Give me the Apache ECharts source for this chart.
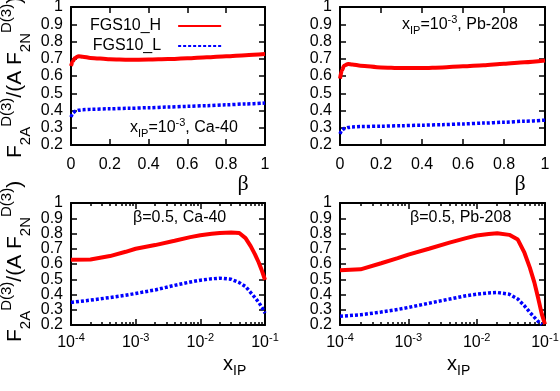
<!DOCTYPE html>
<html>
<head>
<meta charset="utf-8">
<script src="https://cdn.jsdelivr.net/npm/echarts@6/dist/echarts.min.js"></script>
<style>
html, body { margin: 0; padding: 0; background: #fff; }
#chart { width: 560px; height: 391px; }
</style>
</head>
<body>
<div id="chart"></div>
<script>
// beta scans at x_IP = 1e-3
const betaVals = [0, 0.01, 0.02, 0.04, 0.06, 0.1, 0.2, 0.3, 0.4, 0.5, 0.6, 0.7, 0.8, 0.9, 1.0];
const caH_beta = [0.658, 0.685, 0.705, 0.714, 0.712, 0.705, 0.697, 0.694, 0.695, 0.698, 0.703, 0.709, 0.715, 0.721, 0.727];
const caL_beta = [0.362, 0.385, 0.395, 0.402, 0.405, 0.407, 0.41, 0.413, 0.416, 0.42, 0.424, 0.428, 0.433, 0.438, 0.443];
const pbH_beta = [0.585, 0.635, 0.66, 0.67, 0.667, 0.66, 0.65, 0.646, 0.646, 0.65, 0.656, 0.663, 0.671, 0.68, 0.69];
const pbL_beta = [0.264, 0.285, 0.295, 0.302, 0.305, 0.307, 0.309, 0.312, 0.315, 0.318, 0.322, 0.327, 0.332, 0.338, 0.344];

// x_IP scans at beta = 0.5
const xipVals = [1e-4, 2e-4, 4e-4, 7e-4, 1e-3, 2e-3, 4e-3, 7e-3, 1e-2, 1.5e-2, 2e-2, 3e-2, 4e-2, 5e-2, 6e-2, 7e-2, 8e-2, 9e-2, 1e-1];
const caH_xip = [0.628, 0.630, 0.652, 0.680, 0.700, 0.724, 0.752, 0.776, 0.789, 0.798, 0.804, 0.806, 0.803, 0.770, 0.717, 0.663, 0.610, 0.554, 0.496];
const caL_xip = [0.348, 0.363, 0.380, 0.395, 0.407, 0.430, 0.460, 0.482, 0.494, 0.503, 0.507, 0.500, 0.478, 0.452, 0.413, 0.380, 0.348, 0.315, 0.278];
const pbH_xip = [0.559, 0.565, 0.605, 0.638, 0.661, 0.700, 0.740, 0.770, 0.787, 0.797, 0.802, 0.791, 0.760, 0.674, 0.576, 0.478, 0.370, 0.270, 0.205];
const pbL_xip = [0.257, 0.267, 0.285, 0.302, 0.315, 0.343, 0.370, 0.392, 0.402, 0.410, 0.413, 0.402, 0.370, 0.326, 0.283, 0.250, 0.222, 0.203, null];

// tick values (y labels are split in two sets so that none get dropped)
const yLabelsEven = [0.2, 0.4, 0.6, 0.8, 1];
const yLabelsOdd = [0.3, 0.5, 0.7, 0.9];
const xipMajor = [1e-4, 1e-3, 1e-2, 1e-1];
const seriesNames = ['FGS10_H', 'FGS10_L'];

const xipMinor = [];
for (let d = -4; d < -1; d++) {
  for (let k = 2; k <= 9; k++) xipMinor.push(k * Math.pow(10, d));
}

const FONT = "'Liberation Sans', Arial, sans-serif";
const black = '#000';

const grids = [
  { left: 71, top: 7, width: 194, height: 138 },
  { left: 340, top: 7, width: 205, height: 138 },
  { left: 71, top: 203, width: 194, height: 122 },
  { left: 340, top: 203, width: 205, height: 122 }
];
grids.forEach(g => { g.outerBoundsMode = 'none'; });

const lineAx = { show: true, onZero: false, lineStyle: { color: black, width: 2 } };
const tickAx = (len) => ({ show: true, inside: true, length: len, lineStyle: { color: black, width: 1.5 } });
const yLabelStyle = { margin: 8, showMinLabel: true, showMaxLabel: true, hideOverlap: false,
  color: black, fontFamily: FONT, fontSize: 16 };

const xAxes = [];
const yAxes = [];
for (let i = 0; i < 4; i++) {
  const isLog = i >= 2;
  ['bottom', 'top'].forEach(pos => {
    const ax = {
      gridIndex: i, position: pos,
      axisLine: lineAx, splitLine: { show: false },
      axisTick: tickAx(6)
    };
    if (isLog) {
      Object.assign(ax, { type: 'log', logBase: 10, min: 1e-4, max: 1e-1 });
      ax.axisTick.customValues = xipMajor;
      ax.axisLabel = {
        show: pos === 'bottom', customValues: xipMajor, margin: 7,
        showMinLabel: true, showMaxLabel: true, hideOverlap: false,
        color: black, fontFamily: FONT, fontSize: 16, lineHeight: 22,
        formatter: v => '10{sup|' + Math.round(Math.log10(v)) + '}',
        rich: { sup: { fontSize: 11, fontFamily: FONT, color: black, height: 11, verticalAlign: 'top' } }
      };
    } else {
      Object.assign(ax, { type: 'value', min: 0, max: 1, interval: 0.2 });
      ax.axisLabel = { show: pos === 'bottom', margin: 12, showMinLabel: true, showMaxLabel: true,
        color: black, fontFamily: FONT, fontSize: 16 };
    }
    xAxes.push(ax);
    if (isLog) {
      xAxes.push({
        gridIndex: i, position: pos, type: 'log', logBase: 10, min: 1e-4, max: 1e-1,
        axisLine: { show: false }, splitLine: { show: false },
        axisTick: Object.assign(tickAx(3), { customValues: xipMinor }),
        axisLabel: { show: false }
      });
    }
  });
  // left: frame + ticks + even labels; right: mirror; extra left: odd labels only
  yAxes.push({
    gridIndex: i, position: 'left', type: 'value', min: 0.2, max: 1, interval: 0.1,
    axisLine: lineAx, splitLine: { show: false }, axisTick: tickAx(6),
    axisLabel: Object.assign({ customValues: yLabelsEven }, yLabelStyle)
  });
  yAxes.push({
    gridIndex: i, position: 'right', type: 'value', min: 0.2, max: 1, interval: 0.1,
    axisLine: lineAx, splitLine: { show: false }, axisTick: tickAx(6),
    axisLabel: { show: false }
  });
  yAxes.push({
    gridIndex: i, position: 'left', type: 'value', min: 0.2, max: 1, interval: 0.1,
    axisLine: { show: false }, splitLine: { show: false }, axisTick: { show: false },
    axisLabel: Object.assign({ customValues: yLabelsOdd }, yLabelStyle)
  });
}

// index of the bottom (labelled) x axis for each grid
const xIdx = [0, 2, 4, 8];
const pair = (xs, ys) => xs.map((x, k) => [x, ys[k]]);

const panelData = [
  [betaVals, caH_beta, caL_beta, 0.3],
  [betaVals, pbH_beta, pbL_beta, 0.3],
  [xipVals, caH_xip, caL_xip, false],
  [xipVals, pbH_xip, pbL_xip, false]
];

const series = [];
panelData.forEach((p, i) => {
  series.push({
    name: seriesNames[0], type: 'line', xAxisIndex: xIdx[i], yAxisIndex: i * 3,
    data: pair(p[0], p[1]), showSymbol: false, smooth: p[3], smoothMonotone: 'x',
    lineStyle: { color: '#ff0000', width: 4 }, itemStyle: { color: '#ff0000' }
  });
  series.push({
    name: seriesNames[1], type: 'line', xAxisIndex: xIdx[i], yAxisIndex: i * 3,
    data: pair(p[0], p[2]), showSymbol: false, smooth: p[3], smoothMonotone: 'x',
    lineStyle: { color: '#0000ff', width: 3.5, type: [3, 2] }, itemStyle: { color: '#0000ff' }
  });
});

function richText(x, y, text, size, extra) {
  const small = Math.round(size * 0.7);
  return Object.assign({
    type: 'text', x: x, y: y, silent: true,
    style: {
      text: text, align: 'left', verticalAlign: 'middle', fill: black,
      fontFamily: FONT, fontSize: size,
      rich: {
        m: { fontFamily: FONT, fontSize: size, lineHeight: Math.round(size * 1.4), fill: black },
        sub: { fontFamily: FONT, fontSize: small, height: small, verticalAlign: 'bottom', fill: black },
        sup: { fontFamily: FONT, fontSize: small, height: small, verticalAlign: 'top', fill: black }
      }
    }
  }, extra || {});
}

const yTitle = '{m|F}{sub|2A}{sup|D(3)}{m|/(A F}{sub|2N}{sup|D(3)}{m|)}';
function yLabel(y) {
  return {
    type: 'text', x: -3, y: y, rotation: Math.PI / 2, silent: true,
    style: {
      text: yTitle, align: 'left', verticalAlign: 'top', fill: black,
      rich: {
        m: { fontFamily: FONT, fontSize: 21, lineHeight: 36, fill: black },
        sub: { fontFamily: FONT, fontSize: 15, height: 14, verticalAlign: 'bottom', fill: black },
        sup: { fontFamily: FONT, fontSize: 15, height: 20, verticalAlign: 'top', fill: black }
      }
    }
  };
}

const graphic = [
  yLabel(158), yLabel(342),
  richText(130, 128, '{m|x}{sub|IP}{m|=10}{sup|-3}{m|, Ca-40}', 16),
  richText(402, 25, '{m|x}{sub|IP}{m|=10}{sup|-3}{m|, Pb-208}', 16),
  richText(133, 218, '{m|β=0.5, Ca-40}', 16),
  richText(410, 218, '{m|β=0.5, Pb-208}', 16),
  { type: 'text', x: 243, y: 184, silent: true,
    style: { text: 'β', align: 'center', verticalAlign: 'middle', fill: black, fontFamily: "'Liberation Serif', serif", fontSize: 22 } },
  { type: 'text', x: 520, y: 184, silent: true,
    style: { text: 'β', align: 'center', verticalAlign: 'middle', fill: black, fontFamily: "'Liberation Serif', serif", fontSize: 22 } },
  richText(223, 364, '{m|x}{sub|IP}', 20),
  richText(447, 364, '{m|x}{sub|IP}', 20)
];

const chart = echarts.init(document.getElementById('chart'), null, { renderer: 'canvas' });
chart.setOption({
  animation: false,
  backgroundColor: '#fff',
  grid: grids,
  xAxis: xAxes,
  yAxis: yAxes,
  legend: {
    data: seriesNames, orient: 'vertical', align: 'right',
    left: 90, top: 18, padding: 0, itemGap: 4,
    itemWidth: 43, itemHeight: 14,
    itemStyle: { opacity: 0 },
    textStyle: { color: black, fontFamily: FONT, fontSize: 16, padding: [0, 12, 0, 0] }
  },
  series: series,
  graphic: graphic
});
</script>
</body>
</html>
